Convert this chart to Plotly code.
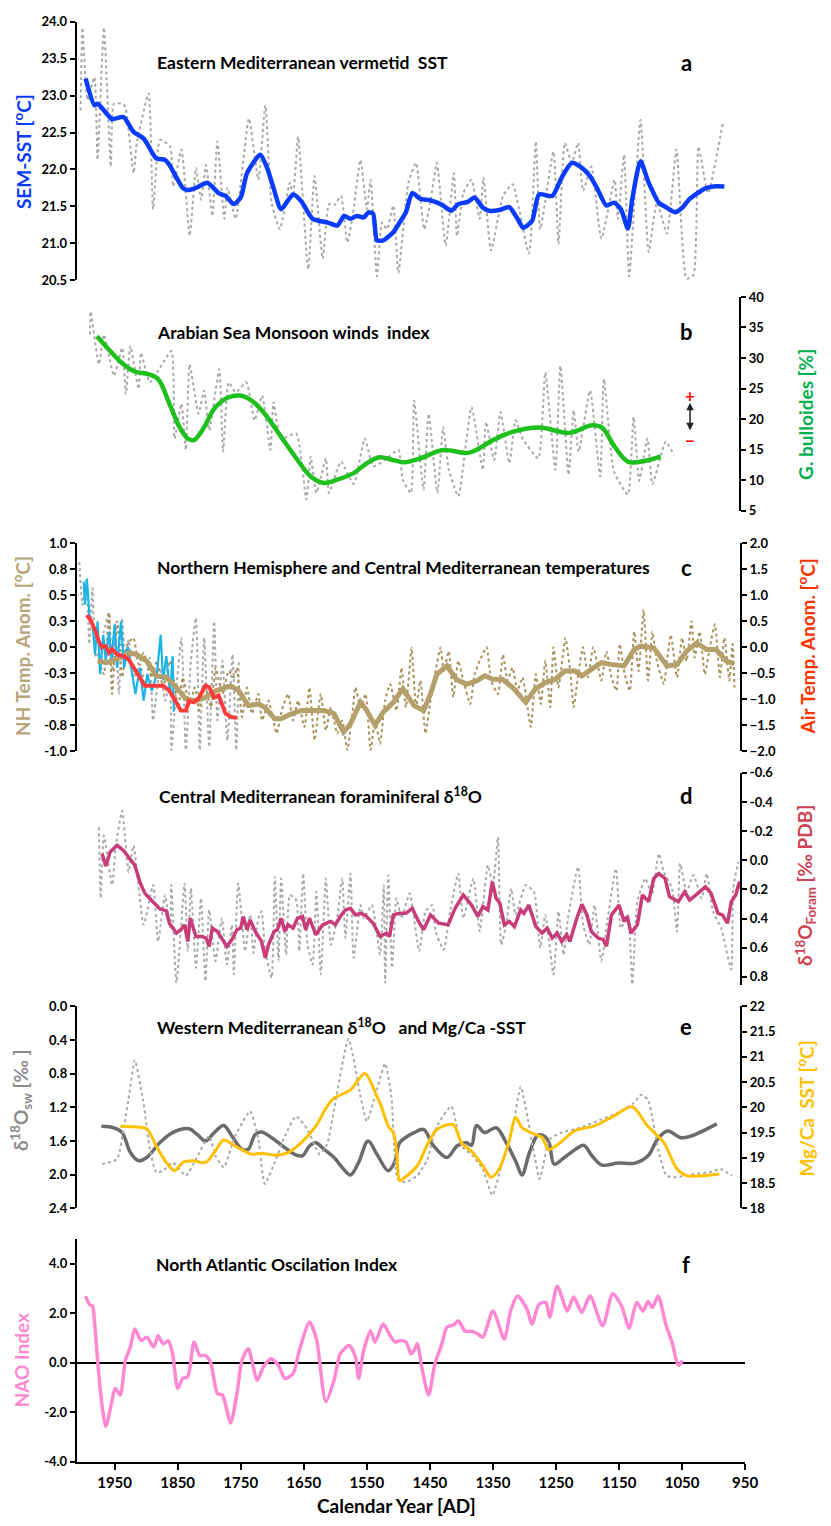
import plotly.graph_objects as go

W, H = 831, 1526

# ---------------- DATA ----------------
# Panel a: Eastern Mediterranean vermetid SST
a_smooth_year = [1996,1982,1977,1962,1954,1936,1920,1904,1884,1870,1863,1842,1834,1821,1803,1785,1774,1761,1750,1740,1719,1709,1698,1686,1667,1654,1636,1612,1597,1586,1576,1566,1555,1547,1540,1534,1524,1508,1498,1488,1478,1465,1449,1431,1416,1405,1390,1379,1366,1356,1340,1324,1311,1302,1288,1277,1256,1241,1225,1212,1196,1184,1170,1158,1147,1136,1129,1116,1103,1087,1074,1061,1050,1038,1014,1001,983]
a_smooth_sst = [23.23,22.87,22.89,22.75,22.68,22.71,22.51,22.42,22.15,22.13,22.06,21.75,21.72,21.75,21.82,21.68,21.64,21.53,21.62,21.95,22.20,22.04,21.75,21.46,21.66,21.57,21.33,21.28,21.24,21.37,21.33,21.37,21.35,21.42,21.40,21.04,21.04,21.15,21.28,21.42,21.68,21.60,21.58,21.52,21.44,21.53,21.56,21.62,21.48,21.44,21.45,21.49,21.33,21.21,21.30,21.66,21.64,21.89,22.09,22.04,21.91,21.73,21.51,21.55,21.46,21.20,21.60,22.11,21.82,21.55,21.48,21.42,21.48,21.60,21.74,21.77,21.77]
a_raw_year = [2004,2001,1993,1982,1977,1967,1956,1951,1938,1933,1920,1915,1896,1889,1878,1862,1857,1844,1831,1821,1813,1805,1795,1787,1776,1771,1758,1737,1722,1711,1701,1688,1672,1667,1659,1643,1633,1620,1610,1602,1591,1581,1573,1560,1550,1544,1534,1526,1518,1508,1500,1484,1472,1459,1449,1439,1425,1412,1407,1397,1384,1371,1365,1353,1334,1319,1293,1282,1275,1254,1246,1236,1225,1215,1207,1194,1178,1157,1152,1142,1134,1116,1103,1090,1074,1059,1043,1032,1024,1009,985]
a_raw_sst = [22.80,23.92,22.94,23.25,22.13,23.92,22.04,22.89,22.89,22.85,21.95,22.35,23.03,21.46,22.40,22.31,21.77,22.27,21.10,22.02,21.59,22.06,21.37,22.38,21.33,21.75,21.33,22.69,21.86,22.87,21.55,21.19,21.82,21.64,22.44,20.65,21.91,20.79,21.53,21.51,21.64,21.01,21.33,22.13,21.46,21.86,20.55,21.28,21.19,21.51,20.60,21.82,22.09,21.19,21.57,22.09,20.97,21.95,21.10,21.68,21.86,21.33,21.89,20.90,21.64,21.80,20.86,22.38,21.19,22.24,20.99,22.36,22.09,22.36,21.71,22.04,21.06,21.86,21.33,22.20,20.55,22.67,20.88,21.55,21.13,22.27,20.52,20.57,22.31,21.68,22.65]

# Panel b: Arabian Sea monsoon (G. bulloides %)
b_smooth_year = [1978,1957,1936,1918,1897,1881,1863,1847,1834,1824,1811,1790,1769,1751,1733,1712,1686,1660,1639,1618,1597,1571,1550,1530,1509,1491,1465,1429,1387,1350,1319,1276,1229,1193,1177,1157,1136,1115,1084]
b_smooth_pct = [33.57,31.14,28.98,27.79,27.36,26.55,22.50,18.71,16.82,16.55,18.17,21.96,23.58,23.85,23.04,20.88,17.09,13.31,10.61,9.53,10.07,11.15,12.77,13.74,13.31,12.93,13.58,14.93,14.50,16.55,17.90,18.61,17.74,18.98,18.61,15.47,13.04,13.04,13.85]
b_raw_year = [1989,1988,1975,1967,1951,1938,1932,1925,1912,1908,1894,1860,1855,1844,1837,1831,1817,1808,1800,1784,1778,1769,1758,1741,1728,1716,1703,1698,1686,1662,1646,1639,1630,1615,1610,1591,1571,1553,1540,1521,1500,1493,1480,1475,1460,1452,1438,1429,1420,1405,1384,1366,1361,1348,1338,1324,1314,1303,1278,1267,1251,1243,1230,1222,1214,1196,1180,1174,1158,1136,1127,1118,1105,1097,1076,1063]
b_raw_pct = [33.84,37.6,28.98,33.84,27.09,31.68,24.12,31.95,24.93,30.87,26.01,31.14,16.82,22.50,14.93,28.98,20.88,24.66,18.17,28.17,14.66,26.01,24.39,26.01,19.79,23.85,14.93,22.77,16.82,17.63,6.83,13.85,7.91,13.58,7.91,13.04,9.37,16.82,12.23,13.31,14.93,10.07,7.91,23.04,8.45,20.88,7.91,18.71,11.69,7.37,21.96,11.69,19.52,13.31,21.15,12.77,19.79,16.82,13.58,27.63,11.69,28.71,10.88,21.42,14.66,24.66,10.61,26.55,11.42,7.64,20.34,9.91,16.82,9.37,16.28,14.12]

# Panel c: NH and Central Mediterranean temperatures
c_nh_smooth_year = [1977,1962,1941,1925,1915,1899,1884,1868,1852,1837,1821,1806,1790,1780,1766,1753,1738,1722,1712,1696,1686,1670,1654,1633,1618,1602,1587,1576,1560,1550,1537,1524,1508,1493,1475,1460,1449,1439,1423,1408,1392,1376,1363,1350,1335,1319,1298,1283,1267,1251,1236,1220,1209,1194,1178,1163,1142,1126,1116,1095,1074,1058,1043,1027,1011,996,980,967]
c_nh_smooth = [-0.133,-0.149,-0.10,-0.054,-0.07,-0.133,-0.276,-0.29,-0.387,-0.498,-0.514,-0.483,-0.42,-0.403,-0.371,-0.42,-0.562,-0.546,-0.578,-0.689,-0.689,-0.64,-0.61,-0.61,-0.61,-0.64,-0.816,-0.737,-0.53,-0.61,-0.752,-0.625,-0.53,-0.40,-0.562,-0.61,-0.45,-0.26,-0.18,-0.308,-0.356,-0.324,-0.276,-0.308,-0.308,-0.387,-0.53,-0.403,-0.34,-0.308,-0.229,-0.229,-0.276,-0.213,-0.149,-0.165,-0.18,-0.022,0.01,-0.006,-0.18,-0.165,-0.038,0.041,-0.022,-0.022,-0.133,-0.159]
c_nh_raw_year = [1975,1967,1959,1954,1946,1938,1930,1920,1912,1904,1891,1883,1873,1862,1849,1842,1831,1823,1816,1808,1797,1790,1779,1769,1761,1756,1748,1740,1732,1722,1716,1706,1693,1685,1675,1667,1659,1649,1641,1633,1623,1615,1607,1597,1589,1581,1573,1568,1560,1552,1544,1537,1529,1521,1513,1503,1495,1488,1479,1472,1465,1457,1449,1441,1433,1428,1420,1413,1405,1397,1386,1379,1371,1360,1353,1342,1334,1327,1319,1311,1303,1290,1282,1274,1267,1259,1254,1246,1235,1227,1222,1214,1207,1199,1191,1183,1178,1170,1162,1154,1149,1141,1133,1126,1119,1111,1104,1097,1090,1079,1074,1068,1058,1050,1043,1035,1030,1022,1014,1006,998,990,983,975,970,967]
c_nh_raw = [-0.13,-0.26,0.33,-0.45,0.25,-0.29,0.03,0.09,-0.165,-0.054,-0.29,-0.13,-0.387,-0.13,-0.578,-0.29,-0.546,-0.387,-0.61,-0.356,-0.578,-0.197,-0.45,-0.229,-0.29,-0.197,-0.673,-0.387,-0.64,-0.45,-0.705,-0.514,-0.83,-0.61,-0.45,-0.705,-0.514,-0.768,-0.387,-0.895,-0.45,-0.80,-0.578,-0.83,-0.705,-0.99,-0.64,-0.387,-0.578,-0.45,-0.99,-0.705,-0.927,-0.514,-0.356,-0.61,-0.197,-0.578,-0.006,-0.578,-0.32,-0.83,-0.514,-0.23,0.0,-0.23,-0.04,-0.48,-0.13,-0.32,-0.546,-0.26,-0.13,0.0,-0.32,-0.45,-0.07,-0.32,-0.197,-0.42,-0.29,-0.768,-0.26,-0.546,-0.13,-0.578,0.0,-0.387,0.09,-0.26,-0.578,-0.23,0.0,-0.29,0.0,-0.197,-0.32,-0.04,-0.29,-0.42,0.03,-0.26,-0.42,0.15,-0.23,0.36,-0.32,0.15,-0.133,-0.356,-0.133,0.12,-0.29,0.09,-0.133,0.25,-0.10,0.15,-0.26,0.0,0.22,-0.29,0.09,-0.32,0.03,-0.387]
c_grey_year = [2006,2001,1995,1990,1985,1980,1972,1967,1959,1954,1949,1943,1938,1933,1928,1920,1909,1902,1894,1889,1878,1870,1862,1860,1852,1844,1837,1829,1821,1815,1808,1800,1792,1787,1779,1771,1763,1757,1753]
c_grey = [0.82,0.41,0.64,0.03,0.57,-0.10,0.0,0.15,0.34,-0.23,0.22,-0.45,0.28,-0.165,0.07,-0.29,-0.165,-0.387,-0.10,-0.705,-0.197,-0.514,-0.32,-0.99,-0.387,0.09,-0.99,-0.13,0.28,-0.99,0.09,-0.96,0.25,-0.705,-0.13,-0.895,-0.07,-0.99,-0.13]
c_cyan_year = [1999,1997,1994,1990,1985,1981,1977,1973,1968,1964,1959,1955,1950,1946,1940,1935,1929,1922,1917,1910,1904,1898,1891,1883,1877,1873,1868,1862,1858,1856]
c_cyan = [0.63,0.41,0.66,0.31,0.22,-0.07,0.25,-0.26,0.12,-0.13,0.15,-0.13,0.22,-0.197,0.25,-0.197,0.0,-0.29,-0.45,-0.197,-0.514,-0.26,-0.42,-0.26,0.12,-0.32,-0.086,-0.45,-0.086,-0.62]
c_air_year = [1994,1988,1980,1975,1970,1964,1959,1954,1946,1936,1928,1920,1910,1902,1884,1873,1863,1852,1845,1837,1832,1824,1816,1806,1800,1792,1785,1774,1764,1756]
c_air = [0.62,0.52,0.30,0.11,0.0,0.02,-0.11,-0.04,-0.14,-0.17,-0.23,-0.39,-0.58,-0.74,-0.74,-0.74,-0.84,-1.06,-1.22,-1.22,-1.03,-1.06,-0.97,-0.74,-0.77,-0.97,-0.93,-1.28,-1.35,-1.36]

# Panel d: Central Mediterranean foraminiferal d18O
d_smooth_year = [1970,1964,1957,1946,1936,1925,1918,1910,1902,1892,1878,1868,1863,1852,1845,1839,1834,1830,1821,1811,1805,1800,1795,1787,1780,1772,1764,1756,1750,1746,1740,1735,1727,1717,1711,1706,1697,1692,1686,1680,1675,1667,1660,1652,1647,1641,1631,1620,1607,1600,1592,1584,1576,1568,1560,1553,1540,1529,1519,1514,1508,1498,1488,1478,1468,1460,1449,1436,1421,1410,1397,1384,1374,1366,1358,1351,1345,1339,1332,1324,1316,1306,1301,1293,1282,1272,1264,1256,1248,1241,1233,1228,1217,1209,1201,1194,1183,1175,1170,1162,1150,1142,1137,1131,1121,1113,1103,1095,1087,1077,1070,1056,1046,1038,1025,1013,1004,993,986,978,972,965,959,957]
d_smooth = [-0.045,0.039,-0.057,-0.102,-0.068,-0.011,0.034,0.148,0.227,0.273,0.334,0.348,0.432,0.50,0.477,0.443,0.557,0.398,0.523,0.523,0.534,0.591,0.466,0.489,0.534,0.591,0.545,0.477,0.466,0.386,0.477,0.409,0.489,0.557,0.670,0.580,0.489,0.477,0.398,0.489,0.443,0.466,0.398,0.386,0.477,0.398,0.511,0.443,0.420,0.443,0.386,0.341,0.33,0.375,0.364,0.375,0.432,0.523,0.50,0.523,0.375,0.364,0.364,0.33,0.42,0.477,0.375,0.432,0.443,0.33,0.239,0.307,0.386,0.318,0.341,0.148,0.261,0.295,0.443,0.420,0.455,0.341,0.364,0.307,0.455,0.50,0.466,0.534,0.50,0.557,0.511,0.557,0.398,0.302,0.375,0.489,0.534,0.545,0.591,0.375,0.307,0.420,0.386,0.50,0.443,0.239,0.284,0.125,0.091,0.125,0.250,0.284,0.216,0.273,0.227,0.182,0.227,0.364,0.375,0.432,0.284,0.239,0.148,0.193]
d_raw_year = [1975,1972,1967,1954,1948,1938,1928,1920,1904,1889,1881,1870,1862,1860,1852,1839,1834,1829,1821,1813,1806,1800,1790,1780,1772,1764,1761,1754,1743,1735,1730,1722,1717,1711,1701,1696,1690,1686,1678,1672,1662,1657,1651,1644,1636,1630,1623,1615,1607,1597,1589,1584,1576,1571,1560,1555,1542,1529,1523,1521,1516,1510,1503,1495,1482,1467,1457,1446,1441,1428,1418,1405,1397,1381,1371,1358,1350,1342,1337,1329,1321,1314,1298,1285,1275,1267,1254,1246,1238,1231,1215,1207,1197,1189,1178,1168,1155,1147,1136,1129,1121,1108,1098,1087,1079,1066,1058,1053,1043,1032,1019,1011,1001,988,972,969,961]
d_raw = [-0.227,0.261,-0.17,0.17,-0.102,-0.34,0.08,-0.102,0.443,0.17,0.557,0.239,0.466,0.17,0.841,0.159,0.625,0.193,0.739,0.261,0.83,0.341,0.693,0.398,0.716,0.443,0.784,0.159,0.625,0.375,0.636,0.398,0.352,0.625,0.807,0.114,0.693,0.125,0.648,0.239,0.273,0.625,0.091,0.580,0.716,0.216,0.784,0.125,0.580,0.398,0.125,0.534,0.091,0.670,0.307,0.398,0.307,0.648,0.17,0.841,0.102,0.739,0.261,0.398,0.227,0.625,0.352,0.307,0.489,0.614,0.352,0.091,0.398,0.125,0.489,0.034,0.17,-0.159,0.580,0.443,0.193,0.375,0.17,0.216,0.602,0.375,0.784,0.352,0.648,0.398,0.045,0.443,0.580,0.307,0.693,0.398,0.057,0.466,0.375,0.852,0.284,0.125,0.239,-0.045,0.080,0.193,0.489,0.023,0.216,0.102,0.261,0.091,0.352,0.466,0.75,0.193,0.011]

# Panel e: Western Mediterranean d18Osw and Mg/Ca SST
e_sw_year = [1971,1951,1938,1925,1912,1899,1878,1858,1832,1819,1806,1792,1777,1764,1748,1738,1727,1717,1701,1680,1665,1652,1641,1631,1618,1602,1587,1576,1563,1548,1534,1516,1506,1498,1485,1475,1460,1444,1423,1407,1392,1384,1376,1363,1345,1329,1313,1304,1292,1279,1269,1261,1253,1240,1219,1206,1193,1177,1151,1125,1104,1089,1073,1052,1036,995]
e_sw = [1.424,1.443,1.50,1.737,1.835,1.796,1.618,1.50,1.455,1.522,1.60,1.50,1.416,1.541,1.698,1.698,1.522,1.494,1.561,1.678,1.757,1.776,1.659,1.62,1.698,1.796,1.933,2.004,1.855,1.60,1.757,1.953,1.855,1.62,1.541,1.50,1.463,1.659,1.796,1.659,1.62,1.651,1.416,1.50,1.443,1.62,1.855,2.004,1.737,1.533,1.541,1.62,1.875,1.816,1.698,1.651,1.776,1.886,1.863,1.863,1.776,1.58,1.482,1.561,1.541,1.396]
e_sst_year = [1941,1920,1899,1884,1868,1855,1842,1826,1806,1792,1777,1759,1733,1717,1696,1675,1654,1631,1613,1602,1576,1553,1534,1527,1516,1508,1503,1498,1491,1470,1455,1439,1413,1400,1382,1366,1353,1340,1325,1314,1304,1283,1272,1262,1246,1220,1189,1158,1129,1105,1079,1058,1043,991]
e_sst = [19.627,19.614,19.575,19.235,18.908,18.745,18.908,18.941,18.908,19.104,19.353,19.235,19.072,19.091,19.052,19.104,19.30,19.627,20.02,20.183,20.346,20.673,20.216,20.02,19.627,19.497,19.17,18.549,18.60,18.843,19.235,19.562,19.66,19.30,19.104,18.843,18.615,18.778,19.30,19.797,19.60,19.464,19.405,19.163,19.275,19.536,19.634,19.830,20.013,19.634,19.30,18.778,18.647,18.680]
e_raw_year = [1970,1946,1936,1928,1918,1905,1894,1884,1873,1858,1837,1821,1800,1790,1777,1759,1735,1722,1712,1696,1680,1662,1644,1625,1613,1602,1579,1560,1550,1537,1521,1511,1501,1488,1470,1455,1439,1416,1400,1382,1366,1351,1335,1319,1306,1286,1276,1260,1242,1211,1179,1153,1127,1115,1104,1088,1075,1059,1033,1007,989,971]
e_raw_sst = [18.876,18.974,19.562,20.15,20.935,20.15,19.17,18.712,18.745,18.908,18.647,18.974,19.431,19.039,18.81,19.431,19.922,19.366,18.484,18.908,19.431,19.824,19.562,19.072,19.268,19.954,21.36,20.216,19.725,20.216,20.87,20.216,18.58,18.516,18.647,18.941,19.627,20.02,19.235,19.039,18.778,18.255,18.908,19.562,20.41,19.17,18.58,19.366,19.497,19.595,19.758,19.889,20.085,20.25,20.15,19.17,18.647,18.614,18.680,18.712,18.778,18.647]

# Panel f: NAO index
f_year = [1996,1990,1985,1982,1977,1971,1964,1956,1949,1941,1933,1925,1918,1908,1899,1888,1881,1873,1865,1858,1850,1842,1834,1824,1815,1806,1798,1787,1779,1766,1756,1748,1738,1724,1714,1702,1690,1680,1667,1657,1641,1630,1615,1602,1592,1578,1568,1563,1555,1544,1537,1524,1513,1505,1498,1488,1480,1475,1470,1462,1452,1442,1431,1423,1412,1405,1394,1384,1376,1366,1350,1332,1322,1311,1296,1288,1277,1266,1260,1248,1232,1222,1209,1196,1176,1160,1146,1134,1122,1112,1104,1097,1088,1076,1066,1056,1049]
f_nao = [2.69,2.36,2.29,1.69,0.09,-1.51,-2.57,-1.77,-1.04,-1.31,0.09,0.63,1.36,0.89,1.03,0.63,1.09,0.76,0.89,0.36,-1.04,-0.64,-0.57,0.83,0.29,0.29,0.03,-1.24,-1.31,-2.44,-1.24,0.09,0.56,-0.71,-0.17,0.16,-0.11,-0.64,-0.44,0.49,1.63,0.96,-1.57,-0.71,0.36,0.69,0.23,-0.64,0.49,1.29,0.83,1.56,1.09,0.83,0.89,0.83,0.36,0.49,0.76,-0.31,-1.31,-0.04,0.76,1.43,1.53,1.69,1.27,1.27,1.19,1.03,2.09,0.96,2.09,2.69,2.16,1.56,2.36,2.43,1.83,3.09,2.09,2.65,2.03,2.69,1.49,2.79,2.29,1.40,2.43,2.09,2.47,2.23,2.69,1.56,0.83,-0.11,0.09]

x_tick_years = [1950,1850,1750,1650,1550,1450,1350,1250,1150,1050,950]
c_left_ticks = [1.0,0.75,0.5,0.25,0.0,-0.25,-0.5,-0.75,-1.0]
c_left_labels = ["1.0","0.8","0.5","0.3","0.0","-0.3","-0.5","-0.8","-1.0"]

# ---------------- STYLE / LAYOUT ----------------
FONT = "Lato"
GREY = "#a9a9a9"
def px(p): return p / W
def py(p): return 1 - p / H

X_DOM = [px(78), px(757)]
RIGHT_POS = px(753)

fig = go.Figure()

def dotted(x, y, xa, ya, color=GREY, width=2):
    fig.add_trace(go.Scatter(x=x, y=y, xaxis=xa, yaxis=ya, mode="lines",
                             line=dict(color=color, width=width, dash="dot", shape="spline", smoothing=0.5),
                             hoverinfo="skip"))

def solid(x, y, xa, ya, color, width, shape="spline", smoothing=0.6):
    ln = dict(color=color, width=width, shape=shape)
    if shape == "spline":
        ln["smoothing"] = smoothing
    fig.add_trace(go.Scatter(x=x, y=y, xaxis=xa, yaxis=ya, mode="lines", line=ln))

# a
dotted(a_raw_year, a_raw_sst, "x", "y")
solid(a_smooth_year, a_smooth_sst, "x", "y", "#0a3cff", 4.5)
# b
dotted(b_raw_year, b_raw_pct, "x2", "y2")
solid(b_smooth_year, b_smooth_pct, "x2", "y2", "#1ec01e", 4.5, smoothing=1.0)
# c
dotted(c_grey_year, c_grey, "x3", "y3")
dotted(c_nh_raw_year, c_nh_raw, "x3", "y3", color="#a8925a", width=2)
solid(c_cyan_year, c_cyan, "x3", "y3", "#1ab4ea", 2.2, shape="linear")
solid(c_nh_smooth_year, c_nh_smooth, "x3", "y3", "#b5a06b", 5, shape="linear")
solid(c_air_year, c_air, "x3", "y4", "#ff3b3b", 4, shape="linear")
# d
dotted(d_raw_year, d_raw, "x4", "y5")
solid(d_smooth_year, d_smooth, "x4", "y5", "#c83c78", 3.5, shape="linear")
# e
solid(e_sw_year, e_sw, "x5", "y6", "#6b6b6b", 3.5, smoothing=1.0)
dotted(e_raw_year, e_raw_sst, "x5", "y7")
solid(e_sst_year, e_sst, "x5", "y7", "#ffc000", 3, smoothing=0.8)
# f
solid(f_year, f_nao, "x6", "y8", "#ff88d2", 3.5, smoothing=0.7)

tickfont_y = dict(family=FONT, size=13, color="black", weight="bold")
axis_common = dict(showline=True, linecolor="black", linewidth=2, ticks="outside",
                   ticklen=5, tickwidth=2, tickcolor="black", showgrid=False,
                   zeroline=False, tickfont=tickfont_y)

def xaxis(anchor, visible=False):
    d = dict(domain=X_DOM, range=[2010, 950], anchor=anchor, showgrid=False, zeroline=False)
    if visible:
        d.update(showline=True, linecolor="black", linewidth=2, ticks="outside", ticklen=6,
                 tickwidth=2, tickcolor="black", tickvals=x_tick_years,
                 ticktext=[str(v) for v in x_tick_years],
                 tickfont=dict(family=FONT, size=15, color="black", weight="bold"))
    else:
        d.update(visible=False)
    return d

layout = dict(
    width=W, height=H, margin=dict(l=0, r=0, t=0, b=0),
    paper_bgcolor="white", plot_bgcolor="white", showlegend=False,
    xaxis=xaxis("y"), xaxis2=xaxis("y2"), xaxis3=xaxis("y3"),
    xaxis4=xaxis("y5"), xaxis5=xaxis("y6"), xaxis6=xaxis("y8", visible=True),
    yaxis=dict(axis_common, domain=[py(275), py(14)], range=[20.5, 24.0], dtick=0.5, tick0=20.5,
               tickformat=".1f", anchor="x", side="left"),
    yaxis2=dict(axis_common, domain=[py(508), py(292)], range=[5, 40], dtick=5, tick0=5,
                anchor="free", position=px(752), side="right"),
    yaxis3=dict(axis_common, domain=[py(751), py(541)], range=[-1.0, 1.0],
                tickvals=c_left_ticks, ticktext=c_left_labels, anchor="x3", side="left"),
    yaxis4=dict(axis_common, overlaying="y3", range=[-2.0, 2.0], dtick=0.5, tick0=-2,
                tickformat=".1f", anchor="free", position=RIGHT_POS, side="right"),
    yaxis5=dict(axis_common, domain=[py(987), py(773)], range=[0.854, -0.6],
                tickvals=[-0.6, -0.4, -0.2, 0.0, 0.2, 0.4, 0.6, 0.8],
                ticktext=["-0.6", "-0.4", "-0.2", "0.0", "0.2", "0.4", "0.6", "0.8"],
                anchor="free", position=RIGHT_POS, side="right"),
    yaxis6=dict(axis_common, domain=[py(1213), py(1009)], range=[2.4, 0.0], dtick=0.4, tick0=0,
                tickformat=".1f", anchor="x5", side="left"),
    yaxis7=dict(axis_common, overlaying="y6", range=[18, 22], dtick=0.5, tick0=18,
                anchor="free", position=RIGHT_POS, side="right"),
    yaxis8=dict(axis_common, domain=[py(1469), py(1244)], range=[-4.0, 5.0], tickvals=[-4, -2, 0, 2, 4],
                ticktext=["-4.0", "-2.0", "0.0", "2.0", "4.0"], anchor="x6", side="left",
                zeroline=True, zerolinecolor="black", zerolinewidth=2),
)
fig.update_layout(**layout)

ann = []
def text(x, y, s, size, color="black", xanchor="left", angle=0):
    ann.append(dict(x=px(x), y=py(y), xref="paper", yref="paper", text=s, showarrow=False,
                    xanchor=xanchor, yanchor="middle", textangle=angle,
                    font=dict(family=FONT, size=size, color=color, weight="bold")))

NB = "\u00a0"
TS = 17.5
# panel titles
text(157, 55, "Eastern Mediterranean vermetid " + NB + "SST", TS)
text(157, 328, "Arabian Sea Monsoon winds " + NB + "index", TS)
text(157, 565, "Northern Hemisphere and Central Mediterranean temperatures", TS)
text(160, 796, "Central Mediterranean foraminiferal δ<sup>18</sup>O", TS)
text(157, 1029, "Western Mediterranean δ<sup>18</sup>O " + NB + NB + "and Mg/Ca -SST", TS)
text(156, 1270, "North Atlantic Oscilation Index", TS)
# panel letters
for lab, yy in [("a", 55), ("b", 327), ("c", 565), ("d", 796), ("e", 1029), ("f", 1270)]:
    text(697, yy, lab, 22, xanchor="center")
# axis titles
text(23, 145, "SEM-SST [<sup>o</sup>C]", 19, "#0a3cff", "center", -90)
text(819, 411, "G. bulloides [%]", 19, "#00b050", "center", -90)
text(22, 645, "NH Temp. Anom. [<sup>o</sup>C]", 19, "#b8a57a", "center", -90)
text(819, 645, "Air Temp. Anom. [<sup>o</sup>C]", 19, "#ff3300", "center", -90)
text(818, 887, "δ<sup>18</sup>O<sub>Foram</sub> [‰ PDB]", 19, "#cc4455", "center", -90)
text(22, 1104, "δ<sup>18</sup>O<sub>sw</sub> [‰ ]", 19, "#8c8c8c", "center", -90)
text(818, 1112, "Mg/Ca " + NB + "SST [<sup>o</sup>C]", 19, "#ffc000", "center", -90)
text(22, 1367, "NAO Index", 19, "#ff88d2", "center", -90)
# x title
text(403, 1513, "Calendar Year [AD]", 19, "black", "center")
# +/- arrow in b
text(701, 392, "+", 17, "#ff0000", "center")
text(701, 437, "−", 17, "#ff0000", "center")
ann.append(dict(x=px(701), y=py(399), xref="paper", yref="paper", ax=0, ay=29,
                axref="pixel", ayref="pixel", showarrow=True, arrowside="end+start",
                arrowhead=2, startarrowhead=2, arrowsize=1, startarrowsize=1,
                arrowwidth=1.5, arrowcolor="#222222", text=""))
fig.update_layout(annotations=ann)

fig.write_html("out.html")
